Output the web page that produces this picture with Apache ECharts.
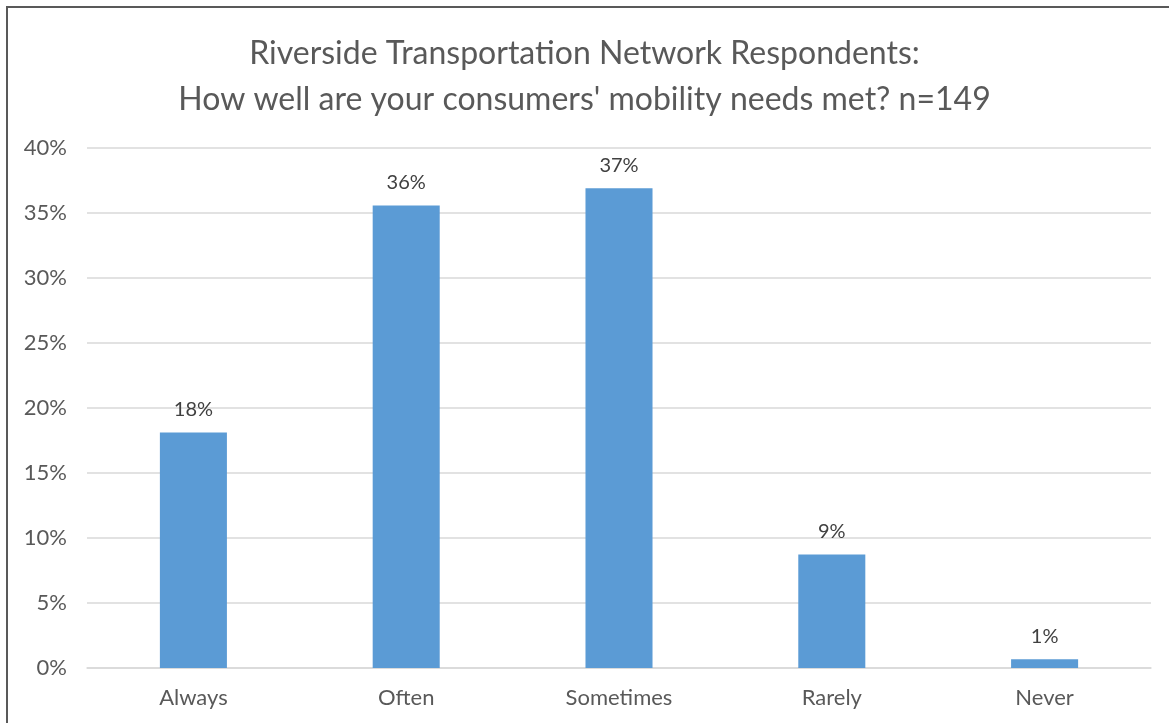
<!DOCTYPE html>
<html><head><meta charset="utf-8">
<script src="https://cdn.jsdelivr.net/npm/echarts@6/dist/echarts.min.js"></script>
<style>html,body{margin:0;padding:0;background:#fff}#c{width:1169px;height:723px}</style>
</head><body><div id="c"></div>
<script>
var categories = ['Always','Often','Sometimes','Rarely','Never'];
var counts = [27, 53, 55, 13, 1];
var total = 149;
var values = counts.map(function(c){ return c / total * 100; });
var yTicks = [0,5,10,15,20,25,30,35,40];

var chart = echarts.init(document.getElementById('c'), null, {renderer:'canvas'});
var font = 'Lato, "Open Sans", sans-serif';
chart.setOption({
  animation:false,
  title:{
    text:'Riverside Transportation Network Respondents:\nHow well are your consumers\' mobility needs met? n=149',
    left:'center', top:26,
    textStyle:{fontFamily:font, fontSize:32, fontWeight:'normal', color:'#595959', lineHeight:46}
  },
  graphic:[{type:'rect', shape:{x:7,y:7,width:1200,height:760}, style:{fill:'none', stroke:'#595959', lineWidth:2}, silent:true}],
  grid:{left:87, right:18, top:148, bottom:55},
  xAxis:{type:'category', data:categories,
    axisLine:{lineStyle:{color:'#d9d9d9', width:1.5}}, axisTick:{show:false},
    axisLabel:{fontFamily:font, fontSize:22, color:'#595959', margin:19}},
  yAxis:{type:'value', min:0, max:40, interval:5,
    axisLine:{show:false}, axisTick:{show:false},
    splitLine:{lineStyle:{color:'#d9d9d9', width:1.5}},
    axisLabel:{fontFamily:font, fontSize:22, color:'#595959', margin:20,
      formatter:function(v){ return yTicks.indexOf(v) >= 0 ? v + '%' : ''; }}},
  series:[{type:'bar', data:values, barWidth:'31.5%',
    itemStyle:{color:'#5b9bd5'},
    label:{show:true, position:'top', distance:13, fontFamily:font, fontSize:20, color:'#404040',
      formatter:function(p){ return Math.round(p.value) + '%'; }}}]
});
</script></body></html>
